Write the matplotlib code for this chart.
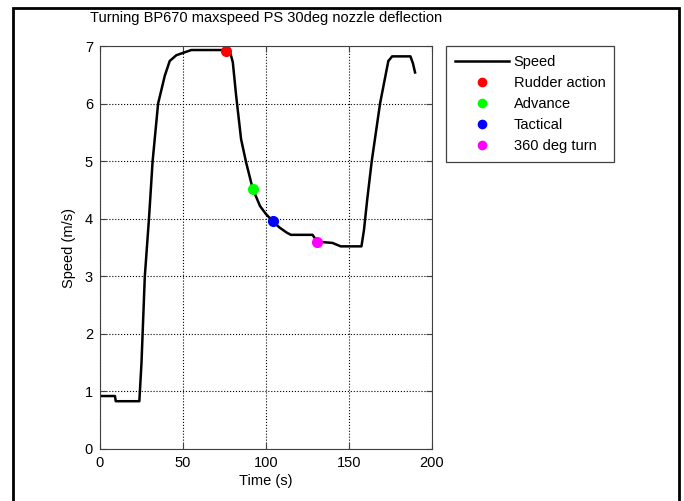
import matplotlib
matplotlib.use('Agg')
import matplotlib.pyplot as plt
from matplotlib.patches import Rectangle
import numpy as np

plt.rcParams['font.family'] = ['Liberation Sans', 'DejaVu Sans']
plt.rcParams['font.size'] = 10.5

# speed trace
t = [0, 9, 9.5, 23.7, 25, 27, 29.5, 31.7, 35, 39, 42, 46, 50, 55, 78, 80, 82, 85, 88,
     92, 96.4, 100, 104, 108, 112.4, 115, 128, 131, 140, 145, 157.5, 159, 161, 163.7,
     168.7, 173.7, 176, 187, 188.5, 189.8]
speed = [0.92, 0.92, 0.83, 0.83, 1.5, 3.0, 4.0, 5.0, 6.0, 6.48, 6.74, 6.84, 6.88, 6.93,
         6.93, 6.72, 6.14, 5.38, 4.98, 4.52, 4.22, 4.08, 3.96, 3.85, 3.76, 3.72, 3.72,
         3.60, 3.58, 3.52, 3.52, 3.8, 4.34, 5.0, 6.0, 6.74, 6.82, 6.82, 6.7, 6.54]

events = ['Rudder action', 'Advance', 'Tactical', '360 deg turn']
ev_t = [76, 92, 104, 131]
ev_v = [6.91, 4.52, 3.96, 3.60]
ev_col = ['#ff0000', '#00ff00', '#0000ff', '#ff00ff']

fig = plt.figure(figsize=(6.84, 5.01), dpi=100)
ax = fig.add_axes([100/684, 1 - 449/501, 332/684, 403/501])

ax.plot(t, speed, color='black', lw=1.8, label='Speed')
for name, x, y, c in zip(events, ev_t, ev_v, ev_col):
    ax.plot(x, y, 'o', color=c, markersize=7, label=name)

ax.set_xlim(0, 200)
ax.set_ylim(0, 7)
ax.set_xticks([0, 50, 100, 150, 200])
ax.set_yticks(range(8))
ax.grid(True, color='black', linestyle=':', linewidth=0.8)
ax.tick_params(direction='in', length=4, top=True, right=True, color='#404040', pad=5)
for s in ax.spines.values():
    s.set_color('#404040')
ax.set_xlabel('Time (s)', labelpad=3)
ax.set_ylabel('Speed (m/s)', labelpad=6)
ax.set_title('Turning BP670 maxspeed PS 30deg nozzle deflection', fontsize=10.5, pad=17)

leg = ax.legend(loc='upper left', bbox_to_anchor=(446/684, 1 - 46/501), bbox_transform=fig.transFigure,
                fancybox=False, edgecolor='#404040', framealpha=1, handlelength=3.7,
                borderaxespad=0, labelspacing=0.48, fontsize=10.5, markerscale=0.85,
                borderpad=0.6, handletextpad=0.35)
leg.get_frame().set_linewidth(0.9)

fig.patches.append(Rectangle((13/684, -0.1), 666/684, 1.1 - 8/501, transform=fig.transFigure,
                             fill=False, edgecolor='black', lw=2))

fig.savefig('out.png', dpi=100)
